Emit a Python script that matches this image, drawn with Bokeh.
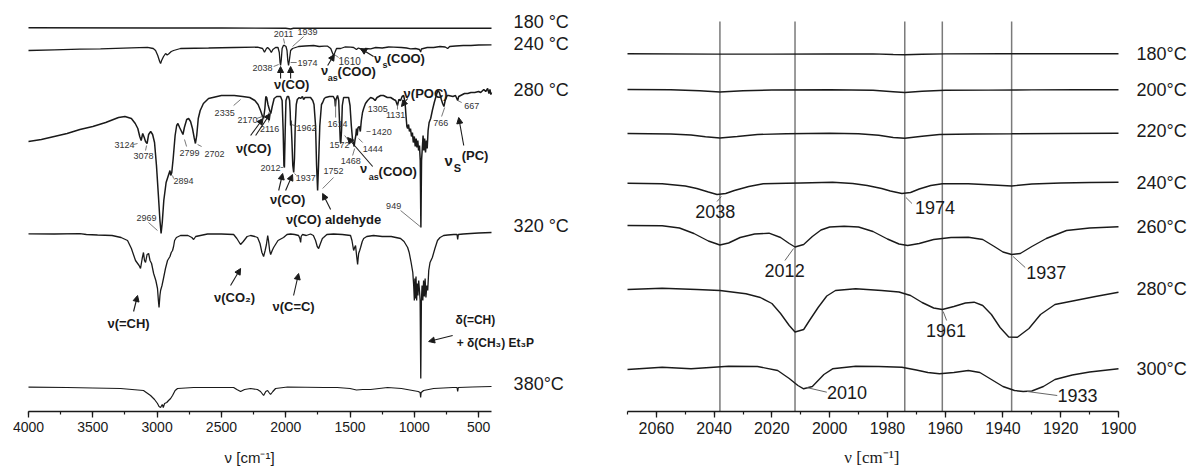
from bokeh.plotting import figure
from bokeh.layouts import row
from bokeh.models import Range1d, SingleIntervalTicker, Label, Arrow, NormalHead, ColumnDataSource
from bokeh.embed import file_html
from bokeh.resources import INLINE

# ---------------- DATA (wavenumber cm-1, absorbance + stacking offset, a.u.; axis drawn downward) ----------------
left_180 = [(4000, 27.3), (3000, 27.5), (2500, 27.5), (2000, 27.7), (1962, 28.5), (1940, 27.8), (1500, 27.7), (1000, 27.7), (400, 27.7)]

left_240 = [(4000, 50), (3800, 49.3), (3600, 48.7), (3440, 48.3), (3200, 47.3), (3075, 46.8), (3030, 48), (3012, 50), (2995, 55),
            (2980, 61), (2973, 63), (2965, 60), (2950, 56), (2934, 53), (2922, 54.5), (2911, 53.5), (2890, 51), (2872, 50),
            (2818, 48), (2600, 47.5), (2400, 47), (2219, 46.7), (2180, 48), (2165, 51.7), (2150, 48), (2141, 47), (2125, 49),
            (2112, 52), (2100, 49), (2079, 47), (2060, 47), (2050, 52), (2044, 62), (2040, 65), (2035, 60), (2028, 48),
            (2018, 45), (2009, 45), (1998, 46), (1990, 50), (1984, 60), (1978, 65), (1972, 60), (1962, 50), (1947, 48),
            (1900, 46), (1850, 45.5), (1783, 45), (1740, 46), (1700, 45.7), (1674, 45.7), (1650, 48), (1635, 53), (1628, 55),
            (1618, 52), (1605, 48), (1573, 48), (1540, 46.5), (1495, 46.7), (1472, 47), (1450, 49), (1435, 47.5), (1418, 48.3),
            (1405, 50), (1394, 50.5), (1380, 48), (1340, 48.3), (1300, 47), (1250, 47.5), (1200, 46.5), (1161, 46.7),
            (1100, 47), (1060, 47.5), (1029, 48.3), (990, 48), (960, 49), (951, 51.5), (945, 48.5), (900, 47), (850, 47),
            (800, 46), (760, 46.5), (741, 48), (725, 46), (680, 45.5), (620, 45), (560, 45), (500, 44.5), (400, 44.3)]

left_280 = [(4000, 141), (3900, 139), (3800, 136), (3700, 133), (3600, 129), (3500, 126), (3400, 122), (3300, 117), (3250, 116),
            (3200, 118), (3170, 123), (3150, 128), (3135, 136), (3124, 140), (3112, 133), (3100, 137), (3090, 141), (3078, 143),
            (3066, 134), (3050, 131), (3035, 134), (3020, 142), (3005, 165), (2990, 195), (2978, 220), (2969, 233), (2960, 222),
            (2948, 200), (2930, 182), (2910, 174), (2900, 170), (2894, 175), (2886, 172), (2875, 158), (2860, 135), (2848, 125),
            (2838, 123), (2825, 127), (2810, 131), (2799, 134), (2788, 127), (2770, 119), (2755, 118), (2740, 121), (2725, 128),
            (2712, 137), (2702, 143), (2692, 135), (2680, 118), (2665, 110), (2640, 103), (2600, 98), (2500, 95), (2400, 95),
            (2335, 96), (2280, 97), (2240, 100), (2215, 104), (2196, 110), (2180, 116), (2172, 118), (2162, 108), (2155, 96),
            (2148, 97), (2138, 104), (2125, 110), (2116, 113), (2105, 106), (2090, 98), (2070, 96), (2040, 96), (2028, 100),
            (2020, 130), (2014, 165), (2010, 167), (2004, 130), (1998, 100), (1988, 96), (1978, 96), (1970, 100), (1965, 112),
            (1962, 125), (1959, 120), (1952, 140), (1945, 165), (1938, 172), (1932, 158), (1926, 125), (1918, 104), (1910, 99),
            (1895, 97), (1884, 98), (1870, 96), (1861, 99), (1850, 97), (1830, 97), (1807, 97), (1790, 100), (1780, 104),
            (1768, 125), (1760, 165), (1752, 190), (1745, 165), (1735, 125), (1722, 104), (1713, 102), (1700, 98), (1690, 97),
            (1660, 96), (1630, 96), (1618, 99), (1614, 106), (1609, 99), (1597, 95), (1588, 100), (1582, 120), (1576, 140),
            (1572, 143), (1566, 130), (1560, 105), (1550, 97), (1530, 97), (1511, 97), (1500, 105), (1490, 125), (1480, 140),
            (1472, 143), (1468, 146), (1462, 140), (1455, 135), (1450, 128), (1444, 135), (1438, 127), (1428, 126), (1420, 131),
            (1412, 120), (1403, 112), (1394, 108), (1380, 103), (1363, 100), (1340, 97), (1320, 98), (1305, 100), (1290, 97),
            (1262, 95), (1240, 95), (1210, 97), (1184, 97), (1160, 99), (1145, 100), (1131, 105), (1120, 99), (1107, 100),
            (1095, 96), (1083, 95), (1072, 102), (1065, 115), (1058, 126), (1052, 128), (1045, 124), (1038, 131), (1030, 128),
            (1022, 136), (1015, 132), (1008, 142), (1000, 136), (993, 146), (986, 138), (980, 147), (973, 140), (967, 150),
            (960, 145), (954, 160), (949, 227), (944, 160), (938, 148), (932, 135), (926, 150), (920, 138), (913, 152),
            (906, 140), (900, 148), (893, 130), (885, 122), (873, 118), (860, 110), (845, 102), (834, 97), (818, 90), (805, 92),
            (790, 99), (780, 103), (770, 106), (760, 100), (745, 95), (733, 95), (700, 96), (680, 95), (663, 100), (655, 96),
            (640, 95), (610, 93), (585, 93), (560, 92), (530, 92), (500, 91), (484, 92), (460, 89), (445, 91), (430, 88),
            (420, 93), (412, 89), (405, 94), (400, 92)]

left_320 = [(4000, 233.3), (3800, 233.5), (3600, 233.2), (3550, 234), (3463, 234.5), (3350, 235), (3280, 237), (3230, 240),
            (3200, 248), (3168, 260), (3140, 265), (3129, 268), (3116, 258), (3106, 252), (3098, 260), (3090, 262), (3078, 254),
            (3066, 253), (3055, 260), (3043, 263), (3027, 273), (3010, 280), (2997, 288), (2990, 300), (2985, 307), (2978, 295),
            (2973, 290), (2962, 285), (2949, 277), (2935, 268), (2919, 260), (2900, 256), (2890, 252), (2880, 250), (2872, 246),
            (2864, 240), (2850, 237), (2818, 235), (2760, 235), (2730, 237), (2716, 239), (2700, 236), (2608, 233.5),
            (2500, 233.5), (2405, 234), (2380, 238), (2351, 244), (2330, 241), (2300, 236), (2273, 235), (2240, 236),
            (2219, 237), (2200, 243), (2185, 252), (2172, 256), (2160, 250), (2150, 244), (2140, 235), (2134, 240), (2125, 250),
            (2117, 254), (2105, 250), (2094, 247), (2060, 240), (2017, 237), (1990, 234), (1962, 233.5), (1930, 234), (1900, 235),
            (1890, 238), (1884, 242), (1880, 236), (1870, 234), (1840, 235), (1807, 233.5), (1785, 235), (1768, 240), (1755, 246),
            (1744, 248), (1730, 243), (1715, 238), (1706, 237), (1680, 234), (1628, 233.5), (1560, 234), (1496, 235), (1485, 240),
            (1472, 250), (1464, 247), (1457, 245), (1449, 255), (1441, 264), (1437, 258), (1433, 253), (1425, 250), (1418, 247),
            (1405, 241), (1394, 238), (1370, 236), (1317, 235), (1250, 236), (1180, 236), (1107, 238), (1080, 241), (1052, 247),
            (1040, 252), (1025, 262), (1012, 272), (1005, 285), (1000, 300), (996, 278), (992, 298), (987, 276), (982, 300),
            (977, 283), (972, 295), (966, 280), (960, 290), (955, 300), (950, 378), (945, 300), (940, 285), (934, 300),
            (928, 280), (922, 296), (916, 278), (910, 297), (903, 285), (896, 290), (888, 270), (878, 262), (860, 257),
            (840, 248), (820, 240), (800, 237), (772, 235), (740, 234.5), (694, 234), (668, 234), (663, 239), (658, 234),
            (620, 233.5), (562, 233), (500, 232.5), (400, 232)]

left_380 = [(4000, 386.7), (3700, 387), (3500, 387.5), (3284, 388), (3106, 390), (3051, 395), (3020, 399), (2997, 403),
            (2985, 406), (2973, 407), (2960, 404), (2952, 407), (2942, 403), (2925, 402), (2911, 400), (2895, 398), (2880, 395),
            (2860, 390), (2841, 388), (2716, 387), (2405, 387), (2380, 389), (2351, 391), (2320, 389), (2273, 388), (2220, 389),
            (2196, 391), (2172, 395), (2155, 391), (2141, 390), (2130, 392), (2118, 394), (2100, 391), (2079, 388),
            (1986, 386.5), (1700, 387), (1600, 387), (1500, 388), (1450, 389.5), (1400, 389), (1340, 389), (1208, 387),
            (1100, 388), (1013, 390), (970, 391), (955, 392), (951, 397), (947, 392), (928, 390), (850, 388), (700, 387),
            (668, 387), (663, 391), (658, 387), (550, 386.5), (400, 386)]

right_180 = [(2070, 53.3), (2040, 53.6), (2020, 53.6), (2000, 53.5), (1985, 53.4), (1978, 54), (1974, 54.3), (1968, 53.8),
             (1960, 53.4), (1940, 53.3), (1920, 53.3), (1900, 53.2)]
right_200 = [(2070, 89.0), (2055, 89.3), (2045, 90.2), (2038, 91.5), (2030, 90.3), (2020, 89.5), (2000, 89.3), (1985, 89.8),
             (1978, 91.2), (1974, 92.0), (1968, 90.8), (1960, 89.8), (1945, 89.6), (1930, 89.4), (1915, 89.3), (1900, 89.2)]
right_220 = [(2070, 133.0), (2055, 133.5), (2048, 134.5), (2043, 136.2), (2038, 137.5), (2032, 136), (2025, 134), (2015, 133.2),
             (2000, 132.8), (1990, 133.2), (1983, 134.8), (1978, 137), (1974, 137.7), (1968, 135.8), (1962, 134), (1950, 133.5),
             (1937, 133.3), (1920, 133), (1900, 132.7)]
right_240 = [(2070, 182.7), (2058, 183.3), (2050, 185.5), (2046, 188), (2042, 191.5), (2039, 194), (2036, 193), (2033, 190),
             (2028, 186), (2023, 183.3), (2015, 182.8), (2010, 182.5), (1999, 181.8), (1992, 183), (1987, 185), (1982, 188),
             (1979, 190.5), (1975, 193), (1972, 192), (1969, 188.5), (1965, 185), (1961, 183.3), (1952, 183.2), (1945, 184.2),
             (1937, 185.5), (1930, 183.5), (1920, 182.5), (1910, 182), (1900, 181.7)]
right_260 = [(2070, 225), (2058, 225.2), (2052, 227.5), (2047, 233), (2042, 240.5), (2038, 244.5), (2035, 242.5), (2031, 237),
             (2026, 233.5), (2021, 232.7), (2017, 237), (2014, 243), (2012, 246.5), (2009, 244), (2006, 236), (2003, 229.5),
             (2000, 226.5), (1995, 225.8), (1990, 226.5), (1985, 231), (1980, 238.5), (1976, 243.5), (1973, 245), (1969, 243),
             (1964, 239), (1958, 237), (1952, 236.7), (1947, 239), (1943, 246), (1940, 251.5), (1937, 254), (1934, 253),
             (1930, 246), (1925, 238), (1918, 230), (1910, 227.5), (1900, 226.3)]
right_280 = [(2070, 289), (2058, 287.7), (2046, 289), (2038, 290), (2029, 293.3), (2024, 297), (2020, 303), (2017, 313),
             (2014, 325), (2012, 331.5), (2009, 329), (2007, 320), (2004, 307), (2001, 295.5), (1998, 290), (1991, 288.3),
             (1982, 290), (1976, 291.5), (1972, 295), (1968, 302), (1964, 307.5), (1961, 309), (1957, 306), (1953, 302.5),
             (1950, 301.7), (1947, 305), (1944, 314), (1941, 327), (1938, 336.5), (1935, 336.7), (1931, 328), (1927, 314),
             (1922, 304), (1915, 300), (1908, 296), (1900, 291.7)]
right_300 = [(2070, 369), (2058, 366.7), (2048, 368.3), (2035, 365.7), (2025, 366), (2018, 370), (2014, 378), (2011, 385),
             (2009, 388.3), (2006, 386), (2004, 380), (2002, 374), (1999, 368.3), (1991, 365.7), (1983, 366), (1975, 366.7),
             (1970, 369.5), (1966, 372), (1962, 373.3), (1957, 372), (1952, 370), (1948, 372), (1944, 379), (1940, 386),
             (1936, 390), (1933, 391), (1930, 390.5), (1926, 386), (1922, 379), (1916, 374.5), (1910, 371.5), (1900, 368.3)]

left_temps = ["180 \u00b0C", "240 \u00b0C", "280 \u00b0C", "320 \u00b0C", "380\u00b0C"]
right_temps = ["180\u00b0C", "200\u00b0C", "220\u00b0C", "240\u00b0C", "260\u00b0C", "280\u00b0C", "300\u00b0C"]
right_marks = [2038, 2012, 1974, 1961, 1937]
left_ticks_major = 500
right_ticks_major = 20

INK = "#1a1a1a"
FONT = "Liberation Sans"
AXIS_Y = 411  # level at which the wavenumber axis is drawn


def style_fig(p, tick_size, interval, bounds):
    p.outline_line_color = None
    p.xgrid.visible = False
    p.ygrid.visible = False
    p.background_fill_color = "white"
    p.border_fill_color = "white"
    ax = p.xaxis[0]
    ax.fixed_location = AXIS_Y
    ax.ticker = SingleIntervalTicker(interval=interval, num_minor_ticks=2)
    ax.bounds = bounds
    ax.axis_line_width = 1.5
    ax.axis_line_color = INK
    ax.major_tick_line_color = INK
    ax.minor_tick_line_color = INK
    ax.major_tick_line_width = 1.3
    ax.minor_tick_line_width = 1.2
    ax.major_tick_in = 0
    ax.major_tick_out = 6
    ax.minor_tick_in = 0
    ax.minor_tick_out = 3
    ax.major_label_text_font = FONT
    ax.major_label_text_font_size = f"{tick_size}px"
    ax.major_label_text_color = INK
    ax.major_label_standoff = 4


def add_text(p, x, y, t, size, style="normal", align="center", color=INK, font=FONT):
    p.add_layout(Label(x=x, y=y, text=t, text_font=font, text_font_size=f"{size}px", text_font_style=style,
                       text_align=align, text_baseline="middle", text_color=color))


def add_arrow(p, x0, y0, x1, y1):
    p.add_layout(Arrow(end=NormalHead(size=6, fill_color=INK, line_color=INK, line_width=1),
                       x_start=x0, y_start=y0, x_end=x1, y_end=y1, line_color=INK, line_width=1.1))


# ---------------- LEFT PANEL ----------------
p1 = figure(width=600, height=468, x_range=Range1d(4217.7, -447.5), y_range=Range1d(468, 0),
            output_backend="svg", toolbar_location=None, y_axis_location=None,
            min_border_left=0, min_border_right=0, min_border_top=0, min_border_bottom=0)
style_fig(p1, 14, left_ticks_major, (400, 4000))
add_text(p1, 2281, 457, "\u03bd [cm\u207b\u00b9]", 15)

for spec, lw in [(left_180, 1.4), (left_240, 1.3), (left_280, 1.5), (left_320, 1.3), (left_380, 1.2)]:
    xs, ys = zip(*spec)
    p1.line(list(xs), list(ys), line_color=INK, line_width=lw)

for t, y in zip(left_temps, [21, 43, 89, 225, 383]):
    add_text(p1, 228, y, t, 18, align="left")

small = [("2011", 2017, 33), ("1939", 1830, 31), ("2038", 2180, 67), ("1974", 1830, 62),
         ("3124", 3253, 144), ("3078", 3106, 155), ("2894", 2794, 180), ("2799", 2748, 152), ("2702", 2553, 153),
         ("2969", 3082, 217), ("2335", 2475, 112), ("2170", 2297, 119), ("2116", 2125, 128), ("1962", 1838, 127),
         ("2012", 2118, 167), ("1937", 1845, 177), ("1752", 1628, 170), ("1614", 1597, 123), ("1572", 1581, 144),
         ("1468", 1495, 160), ("1444", 1324, 148), ("1420", 1254, 131), ("1305", 1285, 108), ("1131", 1145, 114),
         ("766", 795, 122), ("667", 554, 105), ("949", 1161, 205)]
for t, x, y in small:
    add_text(p1, x, y, t, 9, color="#333333")
add_text(p1, 1503, 60, "1610", 10, color="#333333")

leaders = [(2017, 38, 2009, 43), (1861, 36, 1947, 46), (2094, 66, 2055, 64), (1915, 62, 1962, 62), (1589, 57, 1622, 54),
           (3183, 144, 3152, 143), (3090, 150, 3082, 145), (2872, 178, 2880, 175), (2771, 146, 2787, 139),
           (2654, 146, 2685, 144), (3067, 222, 2997, 230), (2405, 105, 2351, 99), (2227, 118, 2180, 116),
           (2133, 122, 2133, 112), (1908, 126, 1955, 124), (2040, 167, 2020, 167), (1915, 175, 1932, 173),
           (1628, 177, 1713, 188), (1612, 117, 1612, 100), (1511, 140, 1542, 135), (1480, 155, 1464, 148),
           (1402, 142, 1433, 138), (1340, 131, 1372, 131), (1131, 109, 1131, 104), (788, 116, 764, 107),
           (632, 102, 663, 100), (1107, 210, 955, 226)]
src = ColumnDataSource(dict(x0=[l[0] for l in leaders], y0=[l[1] for l in leaders],
                            x1=[l[2] for l in leaders], y1=[l[3] for l in leaders]))
p1.segment("x0", "y0", "x1", "y1", source=src, line_color="#555555", line_width=0.8)

B = "bold"
add_text(p1, 1954, 84, "\u03bd(CO)", 13, B)
add_text(p1, 1698, 70, "\u03bd", 13, B)
add_text(p1, 1674, 77, "as", 9, B, align="left")
add_text(p1, 1597, 71, "(COO)", 13, B, align="left")
add_text(p1, 1285, 58, "\u03bd", 13, B)
add_text(p1, 1247, 64, "s", 9, B, align="left")
add_text(p1, 1215, 58, "(COO)", 13, B, align="left")
add_text(p1, 2250, 148, "\u03bd(CO)", 13, B)
add_text(p1, 1985, 199, "\u03bd(CO)", 13, B)
add_text(p1, 1628, 219, "\u03bd(CO) aldehyde", 13, B)
add_text(p1, 1394, 168, "\u03bd", 13, B)
add_text(p1, 1355, 176, "as", 9, B, align="left")
add_text(p1, 1278, 171, "(COO)", 13, B, align="left")
add_text(p1, 912, 93, "\u03bd(POC)", 13, B)
add_text(p1, 733, 160, "\u03bd", 15, B)
add_text(p1, 694, 167, "S", 11, B, align="left")
add_text(p1, 632, 155, "(PC)", 13, B, align="left")
add_text(p1, 3222, 323, "\u03bd(=CH)", 13, B)
add_text(p1, 2398, 297, "\u03bd(CO\u2082)", 13, B)
add_text(p1, 1939, 306, "\u03bd(C=C)", 13, B)
add_text(p1, 679, 319, "\u03b4(=CH)", 12, B, align="left")
add_text(p1, 671, 342, "+ \u03b4(CH\u2083) Et\u2083P", 12, B, align="left")

for a in [(2040, 78, 2040, 66), (1962, 78, 1962, 66), (1674, 65, 1622, 54), (1317, 56, 1418, 48),
          (2273, 135, 2176, 118), (2234, 135, 2120, 113), (2055, 190, 2024, 173), (2001, 190, 1947, 174),
          (1651, 209, 1713, 193), (1324, 166, 1519, 137), (1052, 98, 1100, 106), (616, 145, 655, 117),
          (3183, 311, 3152, 295), (2429, 285, 2351, 268), (1939, 295, 1900, 273), (702, 335, 889, 341)]:
    add_arrow(p1, *a)

# ---------------- RIGHT PANEL ----------------
p2 = figure(width=588, height=468, x_range=Range1d(2079.35, 1875.76), y_range=Range1d(468, 0),
            output_backend="svg", toolbar_location=None, y_axis_location=None,
            min_border_left=0, min_border_right=0, min_border_top=0, min_border_bottom=0)
style_fig(p2, 16, right_ticks_major, (1900, 2070))
add_text(p2, 1985.4, 457, "\u03bd [cm\u207b\u00b9]", 17, font="Liberation Serif")

p2.segment(x0=right_marks, y0=[AXIS_Y] * len(right_marks), x1=right_marks, y1=[21] * len(right_marks),
           line_color="#7a7a7a", line_width=1.5)

for spec in [right_180, right_200, right_220, right_240, right_260, right_280, right_300]:
    xs, ys = zip(*spec)
    p2.line(list(xs), list(ys), line_color=INK, line_width=1.4)

for t, y in zip(right_temps, [53, 89, 130, 182, 226, 288, 368]):
    add_text(p2, 1893.8, y, t, 18, align="left")

for t, x, y in [("2038", 2039.6, 211), ("1974", 1963.5, 207), ("2012", 2015.6, 270), ("1937", 1925, 272),
                ("1961", 1959.7, 330), ("2010", 1994, 392), ("1933", 1914.2, 395)]:
    add_text(p2, x, y, t, 18)

rl = [(2037.5, 196, 2039, 201), (1973.6, 197, 1971.5, 203), (2012.5, 248, 2015.5, 260), (1936.5, 256, 1932.3, 267),
      (1960.7, 311, 1959.5, 320), (2008, 387, 2001, 391.7), (1931.6, 391, 1921.2, 395)]
src2 = ColumnDataSource(dict(x0=[l[0] for l in rl], y0=[l[1] for l in rl], x1=[l[2] for l in rl], y1=[l[3] for l in rl]))
p2.segment("x0", "y0", "x1", "y1", source=src2, line_color="#666666", line_width=1)

layout = row(p1, p2)
open("out.html", "w").write(file_html(layout, INLINE))
